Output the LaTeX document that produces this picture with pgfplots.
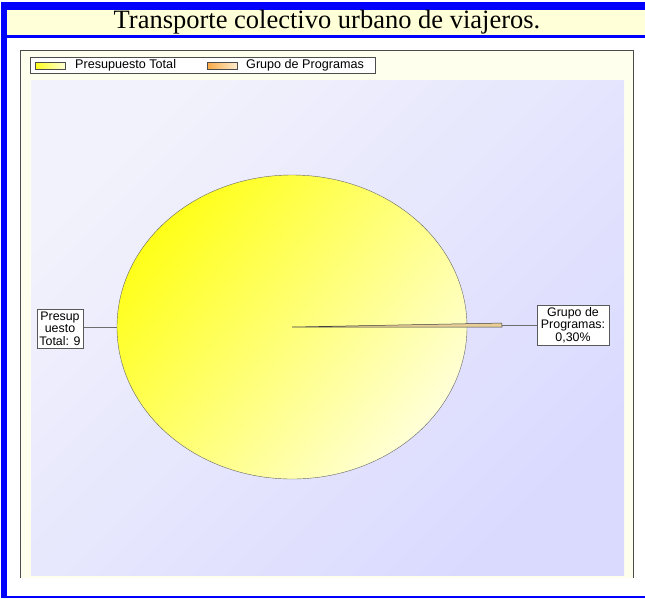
\documentclass[border=0pt]{standalone}
\usepackage{pgfplots}
\pgfplotsset{compat=1.18}
\usepackage{fontspec}
\setmainfont{Liberation Sans}
\newfontfamily\titlefont{Liberation Serif}
\definecolor{bandblue}{RGB}{0,0,255}
\definecolor{titlebg}{RGB}{255,255,216}
\definecolor{framebg}{RGB}{255,255,238}
\definecolor{areaA}{RGB}{242,242,252}
\definecolor{areaB}{RGB}{218,218,255}
\definecolor{pieA}{RGB}{255,255,25}
\definecolor{pieB}{RGB}{255,255,215}
\definecolor{sliceC}{RGB}{232,205,150}
\definecolor{orA}{RGB}{250,170,70}
\definecolor{orB}{RGB}{255,235,205}
\definecolor{lead}{RGB}{110,110,110}

% pie values (percent)
\def\valTotal{99.70}
\def\valGrupo{0.30}

\begin{document}
\begin{tikzpicture}
\begin{axis}[
  width=645pt, height=598pt, scale only axis,
  xmin=0, xmax=645, ymin=0, ymax=598, y dir=reverse,
  hide axis, clip=false,
]
% ---- page frame ----
\fill[white] (axis cs:0,0) rectangle (axis cs:645,598);
\fill[bandblue] (axis cs:1,2) rectangle (axis cs:645,10);
\fill[bandblue] (axis cs:1,2) rectangle (axis cs:7,598);
\fill[titlebg] (axis cs:7,10) rectangle (axis cs:645,35);
\fill[bandblue] (axis cs:7,35) rectangle (axis cs:645,38);
\fill[bandblue] (axis cs:1,596) rectangle (axis cs:645,598);
\node[font=\titlefont\fontsize{26.5}{28}\selectfont] at (axis cs:327,22.5) {Transporte colectivo urbano de viajeros.};
% ---- chart frame ----
\fill[framebg] (axis cs:20.5,50) rectangle (axis cs:633,578);
\draw[gray!60!black] (axis cs:20.5,578) -- (axis cs:20.5,50) -- (axis cs:633,50) -- (axis cs:633,578);
\shade[top color=areaA, bottom color=areaB, shading angle=45] (axis cs:31,80) rectangle (axis cs:624,575);
% ---- legend ----
\draw[gray!60!black, fill=white] (axis cs:30,57) rectangle (axis cs:375,73);
\shadedraw[left color=pieA, right color=pieB, draw=black!70] (axis cs:35,62) rectangle (axis cs:65,69);
\shadedraw[left color=orA, right color=orB, draw=black!70] (axis cs:207,62) rectangle (axis cs:237,69);
\begin{scope}[every node/.style={font=\fontsize{12.6}{13}\selectfont, anchor=west, inner sep=0pt}]
\node at (axis cs:75,65.5) {Presupuesto Total};
\node at (axis cs:246,65.5) {Grupo de Programas};
\end{scope}
% ---- pie ----
\pgfmathsetmacro{\sliceang}{\valGrupo*3.6}
\shadedraw[top color=pieA, bottom color=pieB, shading angle=50, draw=black!60]
  (axis cs:292,327) ellipse [x radius=175pt, y radius=152pt];
\filldraw[fill=sliceC, draw=black!75, line width=0.5pt]
  (axis cs:292,327) -- ++(0:210pt) arc[start angle=0, end angle=\sliceang, radius=210pt] -- cycle;
% ---- leader lines and labels ----
\draw[lead] (axis cs:83,327) -- (axis cs:117,327);
\draw[lead] (axis cs:502,325) -- (axis cs:537,325);
\begin{scope}[every node/.style={font=\fontsize{12.4}{12.6}\selectfont, align=center, inner sep=0pt}]
\draw[gray!70!black, fill=white] (axis cs:37,309) rectangle (axis cs:83,348);
\node at (axis cs:60,328.5) {Presup\\uesto\\Total: 9};
\draw[gray!70!black, fill=white] (axis cs:537,305) rectangle (axis cs:609,345);
\node at (axis cs:573,325) {Grupo de\\Programas:\\0,30\%};
\end{scope}
\end{axis}
\end{tikzpicture}
\end{document}
